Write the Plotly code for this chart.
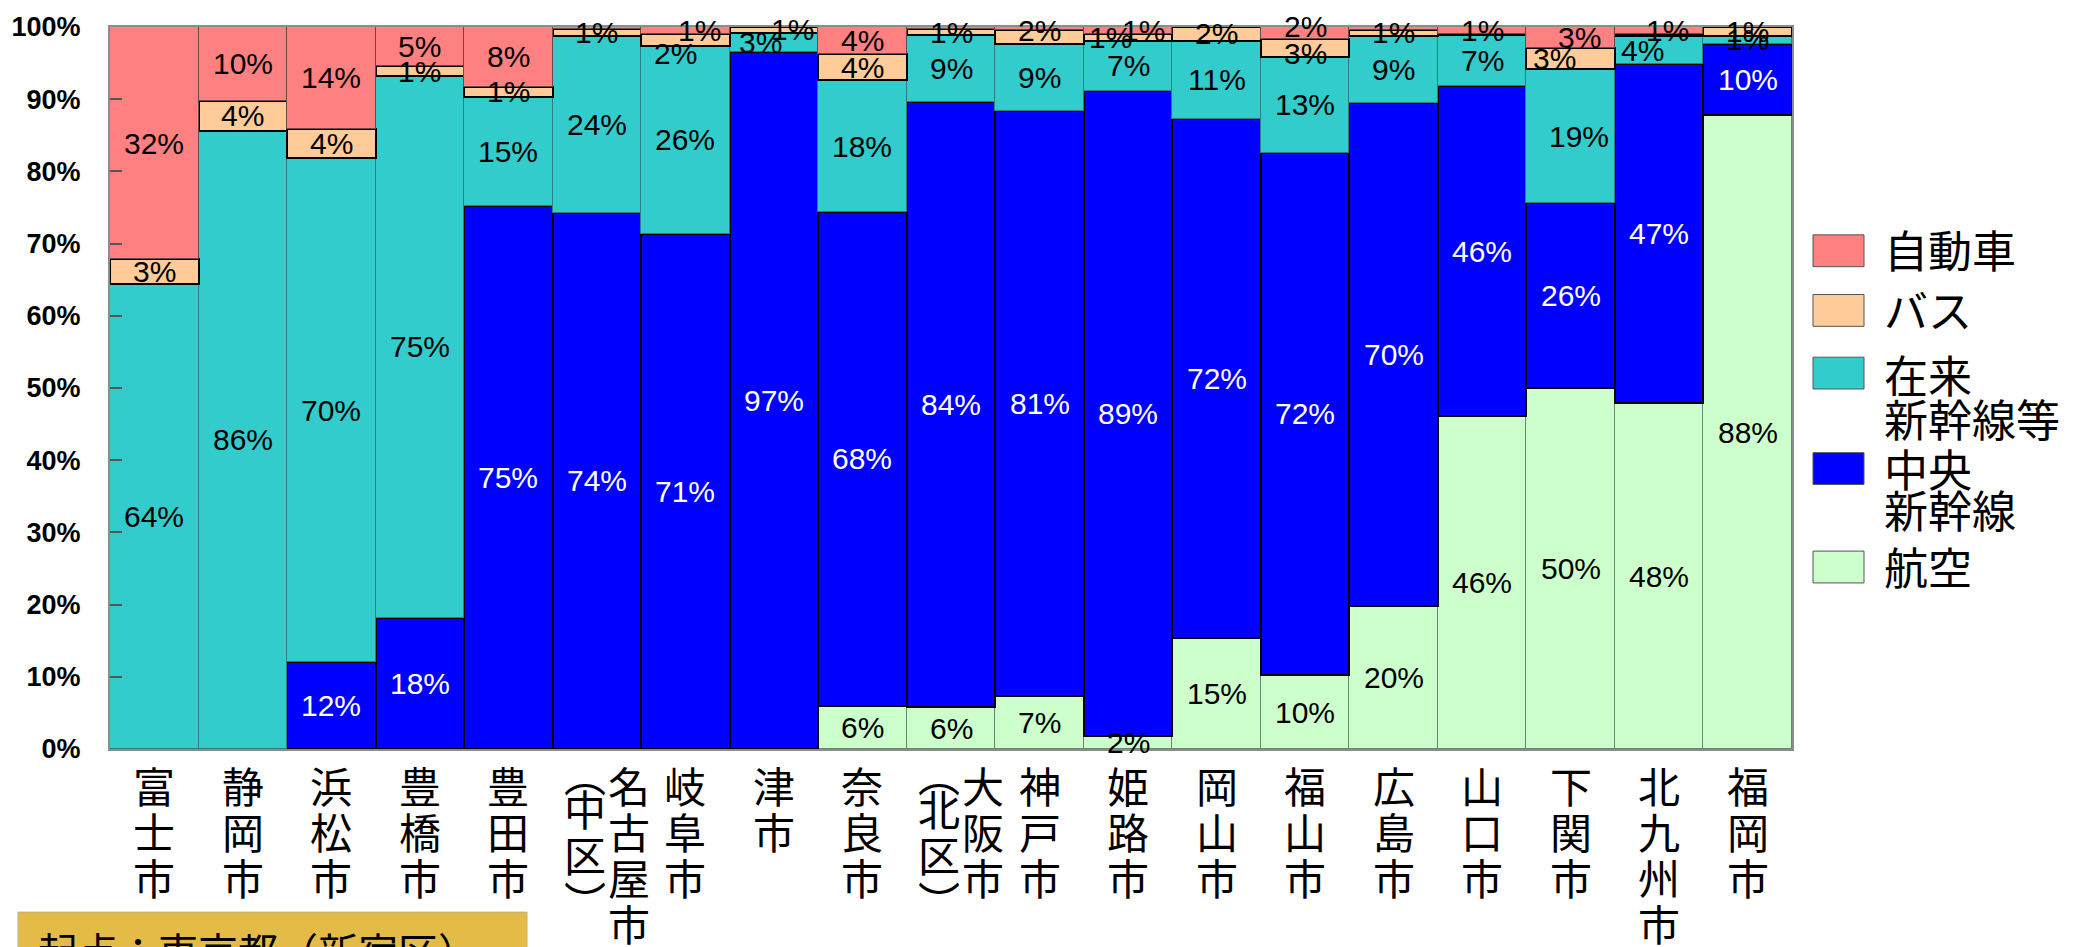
import plotly.graph_objects as go

# ---- data: share of each travel mode (%) from 東京都（新宿区） ----
cities = ["富士市", "静岡市", "浜松市", "豊橋市", "豊田市", "名古屋市（中区）", "岐阜市",
          "津市", "奈良市", "大阪市（北区）", "神戸市", "姫路市", "岡山市", "福山市",
          "広島市", "山口市", "下関市", "北九州市", "福岡市"]

air = [0, 0, 0, 0, 0, 0, 0, 0, 6.0, 5.8, 7.4, 1.8, 15.4, 10.2, 19.8, 46.1, 50.0, 47.9, 87.8]
chuo = [0, 0, 12.0, 18.2, 75.2, 74.3, 71.3, 96.6, 68.4, 83.8, 81.0, 89.4, 71.9, 72.4, 69.7, 45.7, 25.6, 47.0, 9.9]
conv = [64.4, 85.6, 69.8, 75.0, 15.1, 24.4, 26.1, 2.6, 18.2, 9.3, 9.3, 6.8, 10.8, 13.2, 9.3, 7.1, 18.6, 3.8, 1.1]
bus = [3.4, 4.2, 4.1, 1.4, 1.4, 1.0, 1.7, 0.8, 3.7, 0.8, 1.9, 1.1, 1.9, 2.6, 0.8, 0.2, 2.9, 0.4, 1.2]
car = [32.2, 10.2, 14.1, 5.4, 8.3, 0.3, 0.9, 0, 3.7, 0.3, 0.4, 0.9, 0, 1.6, 0.4, 0.9, 2.9, 0.9, 0]

tick_vals = [0, 10, 20, 30, 40, 50, 60, 70, 80, 90, 100]
tick_text = ["0%", "10%", "20%", "30%", "40%", "50%", "60%", "70%", "80%", "90%", "100%"]

origin_text = "起点：東京都（新宿区）"

# series, bottom to top: key, legend lines, values
series = [
    ("air", ["航空"], air),
    ("chuo", ["中央", "新幹線"], chuo),
    ("conv", ["在来", "新幹線等"], conv),
    ("bus", ["バス"], bus),
    ("car", ["自動車"], car),
]

# ---- styling ----
W, H = 2076, 947
ML, MR, MT, MB = 110, 284, 23, 198
PW, PH = W - ML - MR, H - MT - MB

fill = {"car": "#FF8080", "bus": "#FFCC99", "conv": "#33CCCC", "chuo": "#0000FF", "air": "#CCFFCC"}
edge = {"car": "#6a4a4a", "bus": "#000000", "conv": "#2b7f7f", "chuo": "#000000", "air": "#6b866b"}
edge_w = {"car": 1, "bus": 2, "conv": 1.2, "chuo": 2, "air": 1.2}
label_color = {"chuo": "white"}

NUM_FONT = "Liberation Sans Narrow, Arial Narrow, Liberation Sans, Arial, sans-serif"
CJK_FONT = "Noto Sans CJK JP, Noto Sans CJK SC, sans-serif"

# small offsets (px) for value labels that would otherwise collide
nudge = {
    (6, "car"): (14, 0), (6, "bus"): (-10, -14),
    (7, "conv"): (-13, 0), (7, "bus"): (19, 0),
    (10, "bus"): (0, 6),
    (11, "bus"): (-18, 0), (11, "car"): (15, 0),
    (13, "car"): (0, 6), (13, "bus"): (0, -6),
    (16, "car"): (9, 0), (16, "bus"): (-16, 0), (16, "conv"): (8, 0),
    (17, "conv"): (-17, 0), (17, "car"): (8, 0),
}


def px_x(px):
    return (px - ML) / PW


def px_y(py):
    return (H - MB - py) / PH


fig = go.Figure()
for key, lines, vals in series:
    fig.add_trace(go.Bar(
        x=cities, y=vals, name="".join(lines),
        marker=dict(color=fill[key], line=dict(color=edge[key], width=edge_w[key])),
        hoverinfo="x+y",
    ))

annotations = []

# value labels centred in each segment
base = [0.0] * len(cities)
for key, lines, vals in series:
    for i, v in enumerate(vals):
        mid = base[i] + v / 2
        base[i] += v
        txt = f"{v:.0f}"
        if txt == "0":
            continue
        dx, dy = nudge.get((i, key), (0, 0))
        annotations.append(dict(
            x=cities[i], y=mid, xref="x", yref="y", text=txt + "%", showarrow=False,
            xanchor="center", yanchor="middle", xshift=dx, yshift=dy,
            font=dict(family=NUM_FONT, size=30, color=label_color.get(key, "black")),
        ))

# vertical category labels, one character per line
CH_SIZE = 42
STEP = 47.5
FIRST = 35
vert = {"（": "︵", "）": "︶"}
for name in cities:
    if "（" in name:
        main, paren = name.split("（", 1)
        paren = "（" + paren
        cols = [(main, 32, FIRST), (paren, -12, 24)]
    else:
        cols = [(name, 0, FIRST)]
    for text, dx, first in cols:
        y_off = first
        for ch in text:
            small = ch in vert
            annotations.append(dict(
                x=name, y=0, xref="x", yref="paper", text=vert.get(ch, ch), showarrow=False,
                xanchor="center", yanchor="middle", xshift=dx, yshift=-y_off,
                font=dict(family=CJK_FONT, size=CH_SIZE, color="black"),
            ))
            y_off += 34 if small else 46

# hand-drawn legend (large swatches)
shapes = []
legend_rows = [
    ("car", 248, [246]),
    ("bus", 308, [307]),
    ("conv", 371, [372, 416]),
    ("chuo", 467, [466, 508]),
    ("air", 566, [565]),
]
lookup = {k: l for k, l, _ in series}
for key, sy, text_ys in legend_rows:
    shapes.append(dict(
        type="rect", xref="paper", yref="paper",
        x0=px_x(1813), x1=px_x(1864), y0=px_y(sy + 16), y1=px_y(sy - 16),
        fillcolor=fill[key], line=dict(color="#555555", width=1),
    ))
    for line_txt, ty in zip(lookup[key], text_ys):
        annotations.append(dict(
            x=px_x(1882), y=px_y(ty), xref="paper", yref="paper", text=line_txt,
            showarrow=False, xanchor="left", yanchor="middle",
            font=dict(family=CJK_FONT, size=44, color="black"),
        ))

# origin box at the bottom-left
shapes.append(dict(
    type="rect", xref="paper", yref="paper",
    x0=px_x(18), x1=px_x(527), y0=px_y(1010), y1=px_y(913),
    fillcolor="#E5BB47", line=dict(color="#BFB27A", width=1), layer="above",
))
annotations.append(dict(
    x=px_x(36), y=px_y(951), xref="paper", yref="paper", text=origin_text,
    showarrow=False, xanchor="left", yanchor="middle",
    font=dict(family=CJK_FONT, size=40, color="black"),
))

fig.update_layout(
    width=W, height=H, margin=dict(l=ML, r=MR, t=MT, b=MB, pad=0),
    barmode="stack", bargap=0, showlegend=False,
    plot_bgcolor="white", paper_bgcolor="white",
    annotations=annotations, shapes=shapes,
    xaxis=dict(type="category", range=[-0.5, len(cities) - 0.5], showticklabels=False,
               ticks="", showline=True, mirror=True, linecolor="#8c8c8c", linewidth=2,
               showgrid=False, zeroline=False, fixedrange=True),
    yaxis=dict(range=[0, 100], tickvals=tick_vals, ticktext=tick_text, ticks="inside",
               ticklen=12, tickwidth=1.5, tickcolor="#555555", showgrid=False,
               zeroline=False, showline=True, mirror=True, linecolor="#8c8c8c", linewidth=2,
               ticklabelstandoff=22,
               tickfont=dict(family="Liberation Sans, Arial, sans-serif", size=27,
                             color="black", weight="bold"),
               fixedrange=True),
)

fig.write_html("out.html")
